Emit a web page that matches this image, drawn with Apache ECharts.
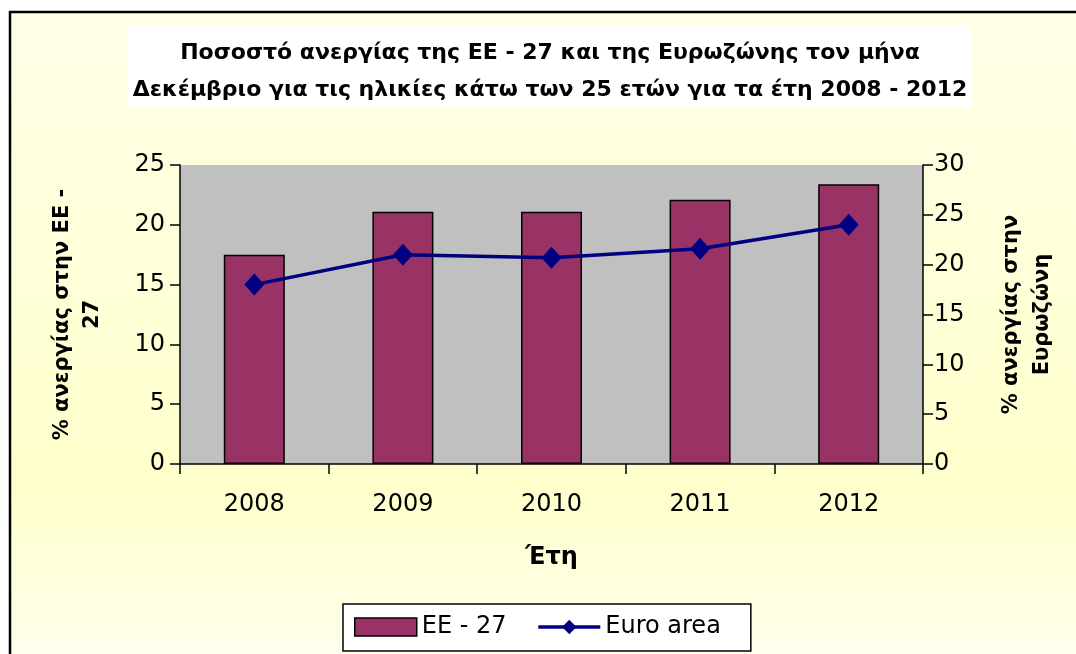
<!DOCTYPE html>
<html>
<head>
<meta charset="utf-8">
<script src="https://cdn.jsdelivr.net/npm/echarts@6/dist/echarts.min.js"></script>
<style>
  html, body { margin: 0; padding: 0; background: #fff; }
  #chart { width: 1076px; height: 654px; }
</style>
</head>
<body>
<div id="chart"></div>
<script>
var years = ['2008', '2009', '2010', '2011', '2012'];
var eu27 = [17.5, 21.1, 21.1, 22.1, 23.4];
var euroArea = [18.0, 21.0, 20.7, 21.6, 24.0];
var leftTicks = [0, 25, 5];   // min, max, step
var rightTicks = [0, 30, 5];

// the original is a wide-looking Arial, DejaVu gets closest in width
var font = '"DejaVu Sans", Arial, sans-serif';

var myChart = echarts.init(document.getElementById('chart'));

var option = {
    backgroundColor: '#ffffff',
    animation: false,
    graphic: [
        // outer chart area with its border
        {
            type: 'rect',
            z: -10,
            shape: { x: 10, y: 12, width: 1080, height: 660 },
            style: {
                fill: new echarts.graphic.LinearGradient(0, 0, 0, 1, [
                    { offset: 0, color: '#ffffe8' },
                    { offset: 0.72, color: '#ffffcc' },
                    { offset: 1, color: '#fffff0' }
                ]),
                stroke: '#000',
                lineWidth: 2.5
            }
        },
        // white box behind title
        {
            type: 'rect',
            z: -5,
            shape: { x: 128, y: 25, width: 844, height: 83 },
            style: { fill: '#ffffff' }
        }
    ],
    title: {
        text: 'Ποσοστό ανεργίας της ΕΕ - 27 και της Ευρωζώνης τον μήνα\nΔεκέμβριο για τις ηλικίες κάτω των 25 ετών για τα έτη 2008 - 2012',
        left: 545,
        textAlign: 'center',
        top: 30,
        textStyle: {
            fontFamily: font,
            fontSize: 22,
            fontWeight: 'bold',
            color: '#000',
            lineHeight: 37
        }
    },
    legend: {
        left: 343,
        top: 604,
        padding: [11, 30, 12, 11],
        backgroundColor: '#ffffff',
        borderColor: '#000',
        borderWidth: 1.5,
        borderRadius: 0,
        itemGap: 30,
        itemWidth: 62,
        itemHeight: 18,
        textStyle: { fontFamily: font, fontSize: 24, color: '#000' },
        data: [
            { name: 'EE - 27', icon: 'rect', itemStyle: { borderColor: '#000', borderWidth: 1.5 } },
            { name: 'Euro area', lineStyle: { width: 3.5 } }
        ]
    },
    grid: {
        left: 180,
        right: 153,
        top: 165,
        bottom: 190,
        show: true,
        backgroundColor: '#c0c0c0',
        borderWidth: 0
    },
    xAxis: {
        type: 'category',
        data: years,
        name: 'Έτη',
        nameLocation: 'middle',
        nameGap: 82,
        nameTextStyle: { fontFamily: font, fontSize: 24, fontWeight: 'bold', color: '#000' },
        axisLine: { lineStyle: { color: '#000', width: 1.5 } },
        axisTick: { show: true, length: 10, lineStyle: { color: '#000', width: 1.5 } },
        axisLabel: { fontFamily: font, fontSize: 24, color: '#000', margin: 29 }
    },
    yAxis: [
        {
            type: 'value',
            min: leftTicks[0],
            max: leftTicks[1],
            interval: leftTicks[2],
            name: '% ανεργίας στην ΕΕ -\n27',
            nameLocation: 'middle',
            nameGap: 72,
            nameTextStyle: { fontFamily: font, fontSize: 21, fontWeight: 'bold', color: '#000', lineHeight: 30 },
            splitLine: { show: false },
            axisLine: { show: true, lineStyle: { color: '#000', width: 1.5 } },
            axisTick: { show: true, length: 10, lineStyle: { color: '#000', width: 1.5 } },
            axisLabel: { fontFamily: font, fontSize: 24, color: '#000', margin: 15 }
        },
        {
            type: 'value',
            min: rightTicks[0],
            max: rightTicks[1],
            interval: rightTicks[2],
            position: 'right',
            name: '% ανεργίας στην\nΕυρωζώνη',
            nameLocation: 'middle',
            nameGap: 73,
            nameRotate: 90,
            nameTextStyle: { fontFamily: font, fontSize: 21, fontWeight: 'bold', color: '#000', lineHeight: 31 },
            splitLine: { show: false },
            axisLine: { show: true, lineStyle: { color: '#000', width: 1.5 } },
            axisTick: { show: true, length: 10, lineStyle: { color: '#000', width: 1.5 } },
            axisLabel: { fontFamily: font, fontSize: 24, color: '#000', margin: 11 }
        }
    ],
    series: [
        {
            name: 'EE - 27',
            type: 'bar',
            yAxisIndex: 0,
            barWidth: 61,
            itemStyle: { color: '#993366', borderColor: '#000', borderWidth: 1.5 },
            data: eu27
        },
        {
            name: 'Euro area',
            type: 'line',
            yAxisIndex: 1,
            symbol: 'diamond',
            symbolSize: [20, 22],
            lineStyle: { color: '#000080', width: 3.5 },
            itemStyle: { color: '#000080' },
            data: euroArea
        }
    ]
};

myChart.setOption(option);
</script>
</body>
</html>
